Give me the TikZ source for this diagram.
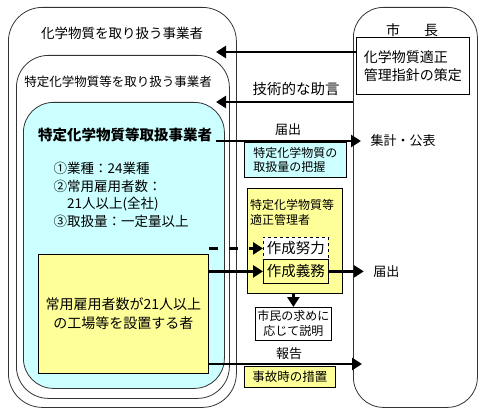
\documentclass[tikz,border=0pt]{standalone}
\usepackage{fontspec}
\setmainfont{Noto Sans CJK JP}
\usetikzlibrary{calc}
\usetikzlibrary{positioning}
\usetikzlibrary{arrows.meta}
\definecolor{lightcyan}{HTML}{CCFFFF}
\definecolor{lightyellow}{HTML}{FFFF99}
\newcommand\sz[2]{\fontsize{#1}{#2}\selectfont}
\tikzstyle{groupbox} = [draw=black!80, line width=0.8pt, anchor=north west, inner sep=0pt]
\tikzstyle{infobox} = [draw, fill=white, line width=0.8pt, anchor=north west, inner sep=2pt, align=left]
\tikzstyle{colorC} = [fill=lightcyan]
\tikzstyle{colorY} = [fill=lightyellow]
\tikzstyle{flow} = [line width=2.5pt, -{Triangle[length=10pt,width=12pt]}]

\begin{document}
\begin{tikzpicture}[x=1pt, y=-1pt]
\useasboundingbox (0,0) rectangle (487,417);
% operators, nested
\node[groupbox, rounded corners=34pt, minimum width=228pt, minimum height=400pt] (handlers) at (8,7) {};
\node[groupbox, rounded corners=32pt, minimum width=213pt, minimum height=343pt] (designated) at (16,55) {};
\node[groupbox, colorC, rounded corners=30pt, minimum width=201pt, minimum height=286pt] (target) at (23,102) {};
\node[font=\sz{13.5}{16}] (handlerstxt) at (122,33) {化学物質を取り扱う事業者};
\node[font=\sz{12.5}{15}] (designatedtxt) at (118,82) {特定化学物質等を取り扱う事業者};
\node[font=\bfseries\sz{14.5}{17}] (targettxt) at (125,135) {特定化学物質等取扱事業者};
\node[font=\sz{13.5}{17.5}, align=left, anchor=north west] (criteria) at (50,159) {①業種：24業種\\②常用雇用者数：\\\hspace{1em}21人以上(全社)\\③取扱量：一定量以上};
\node[groupbox, colorY, draw=black, minimum width=170pt, minimum height=119pt, align=center, font=\sz{14}{19}] (factory) at (38,254) {常用雇用者数が21人以上\\の工場等を設置する者};

% mayor
\node[groupbox, rounded corners=30pt, minimum width=124pt, minimum height=400pt] (mayor) at (353,7) {};
\node[font=\sz{14}{17}] (mayortxt) at (412,30) {市\hspace{24pt}長};
\node[infobox, minimum width=113pt, minimum height=57pt, font=\sz{14}{18}] (guide) at (356,37) {化学物質適正\\管理指針の策定};

% advice
\coordinate (advise1) at (216,52);
\coordinate (advise2) at (216,102);
\draw[flow] (guide.west |- advise1) -- (advise1);
\draw[flow] (mayor.west |- advise2) -- (advise2);
\node[font=\sz{14.5}{17}] (advisetxt) at (296,89) {技術的な助言};

% notification of amounts
\node[infobox, colorC, minimum width=102pt, minimum height=35pt, font=\sz{12}{14}] (amount) at (244,142) {特定化学物質の\\取扱量の把握};
\coordinate (publish) at (361,141);
\draw[flow] (targettxt.east |- publish) -- (publish);
\node[font=\sz{13}{16}] (notifytxt) at (288,130) {届出};
\node[font=\sz{13}{16}, right=6pt of publish] (publishtxt) {集計・公表};

% manager documents
\node[groupbox, colorY, draw=black, minimum width=95pt, minimum height=105pt] (manager) at (247,188) {};
\node[font=\sz{12}{15}, align=left, anchor=north west, inner sep=0pt] (managertxt) at ($(manager.north west)+(3,11)$) {特定化学物質等\\適正管理者};
\node[infobox, dashed, minimum width=65pt, minimum height=22pt, font=\sz{14.5}{17}] (effort) at (263,237) {作成努力};
\node[infobox, colorY, minimum width=65pt, minimum height=24pt, font=\sz{14.5}{17}] (duty) at (263,259) {作成義務};
\draw[flow, dash pattern=on 9pt off 11pt] (factory.east |- effort.west) -- (effort.west);
\draw[flow] (factory.east |- duty.west) -- (duty.west);
\coordinate (submit) at ($(duty.east)+(35,0)$);
\draw[flow] (duty.east) -- (submit);
\node[font=\sz{13}{16}, right=6pt of submit] (submittxt) {届出};

\node[infobox, minimum width=72pt, minimum height=33pt, align=center, font=\sz{12}{15}] (explain) at (255,307) {市民の求めに\\応じて説明};
\draw[flow] (explain.north |- manager.south) -- (explain.north);

% accidents
\coordinate (report) at (362,364);
\draw[flow] (factory.east |- report) -- (report);
\node[font=\sz{13}{16}] (reporttxt) at (289,354) {報告};
\node[infobox, colorY, minimum width=91pt, minimum height=21pt, font=\sz{12.5}{15}] (accident) at (244,366) {事故時の措置};
\end{tikzpicture}
\end{document}
